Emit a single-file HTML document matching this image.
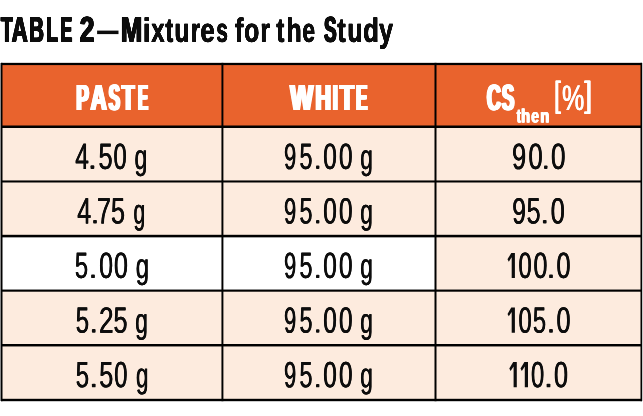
<!DOCTYPE html>
<html><head><meta charset="utf-8">
<style>
html,body{margin:0;padding:0;background:#fff;}
body{width:643px;height:416px;overflow:hidden;}
svg{display:block;will-change:transform;}
text{font-family:"Liberation Sans",sans-serif;font-kerning:none;text-rendering:geometricPrecision;}
</style></head><body>
<svg width="643" height="416" viewBox="0 0 643 416">
<rect x="0.00" y="0.00" width="643.00" height="416.00" fill="#ffffff"/>
<rect x="1.00" y="63.00" width="641.00" height="64.00" fill="#E9632D"/>
<rect x="1.00" y="127.00" width="640.00" height="54.00" fill="#FDEBDE"/>
<rect x="1.00" y="181.00" width="640.00" height="55.00" fill="#FDEBDE"/>
<rect x="1.00" y="236.00" width="434.50" height="55.00" fill="#ffffff"/>
<rect x="435.50" y="236.00" width="205.50" height="55.00" fill="#FDEBDE"/>
<rect x="1.00" y="291.00" width="640.00" height="54.00" fill="#FDEBDE"/>
<rect x="1.00" y="345.00" width="640.00" height="55.00" fill="#FDEBDE"/>
<rect x="0.00" y="63.00" width="1.00" height="338.00" fill="#8a8a8a"/>
<rect x="642.00" y="63.00" width="1.00" height="338.00" fill="#c8c8c8"/>
<rect x="1.00" y="62.85" width="641.00" height="2.25" fill="#000"/>
<rect x="1.00" y="125.50" width="641.00" height="2.50" fill="#000"/>
<rect x="1.00" y="180.45" width="641.00" height="2.05" fill="#000"/>
<rect x="1.00" y="234.80" width="641.00" height="2.55" fill="#000"/>
<rect x="1.00" y="289.55" width="641.00" height="2.15" fill="#000"/>
<rect x="1.00" y="344.00" width="641.00" height="2.45" fill="#000"/>
<rect x="1.00" y="398.80" width="641.00" height="2.40" fill="#000"/>
<rect x="1.00" y="62.85" width="1.50" height="338.35" fill="#000"/>
<rect x="221.45" y="62.85" width="1.95" height="338.35" fill="#000"/>
<rect x="434.50" y="62.85" width="2.00" height="338.35" fill="#000"/>
<rect x="640.50" y="62.85" width="1.50" height="338.35" fill="#000"/>
<text transform="matrix(0.5257 0.001 0 0.9801 0.48 41.50)" font-size="36.5" font-weight="700" fill="#0d0d0d">T</text>
<text transform="matrix(0.5257 0.001 0 0.9801 0.48 41.75)" font-size="36.5" font-weight="700" fill="#0d0d0d">T</text>
<text transform="matrix(0.5257 0.001 0 0.9801 0.48 42.00)" font-size="36.5" font-weight="700" fill="#0d0d0d">T</text>
<text transform="matrix(0.5257 0.001 0 0.9801 0.82 41.50)" font-size="36.5" font-weight="700" fill="#0d0d0d">T</text>
<text transform="matrix(0.5257 0.001 0 0.9801 0.82 41.75)" font-size="36.5" font-weight="700" fill="#0d0d0d">T</text>
<text transform="matrix(0.5257 0.001 0 0.9801 0.82 42.00)" font-size="36.5" font-weight="700" fill="#0d0d0d">T</text>
<text transform="matrix(0.5257 0.001 0 0.9801 1.15 41.50)" font-size="36.5" font-weight="700" fill="#0d0d0d">T</text>
<text transform="matrix(0.5257 0.001 0 0.9801 1.15 41.75)" font-size="36.5" font-weight="700" fill="#0d0d0d">T</text>
<text transform="matrix(0.5257 0.001 0 0.9801 1.15 42.00)" font-size="36.5" font-weight="700" fill="#0d0d0d">T</text>
<text transform="matrix(0.5257 0.001 0 0.9801 1.48 41.50)" font-size="36.5" font-weight="700" fill="#0d0d0d">T</text>
<text transform="matrix(0.5257 0.001 0 0.9801 1.48 41.75)" font-size="36.5" font-weight="700" fill="#0d0d0d">T</text>
<text transform="matrix(0.5257 0.001 0 0.9801 1.48 42.00)" font-size="36.5" font-weight="700" fill="#0d0d0d">T</text>
<text transform="matrix(0.6044 0.001 0 0.9801 11.35 41.50)" font-size="36.5" font-weight="700" fill="#0d0d0d">A</text>
<text transform="matrix(0.6044 0.001 0 0.9801 11.35 41.75)" font-size="36.5" font-weight="700" fill="#0d0d0d">A</text>
<text transform="matrix(0.6044 0.001 0 0.9801 11.35 42.00)" font-size="36.5" font-weight="700" fill="#0d0d0d">A</text>
<text transform="matrix(0.6044 0.001 0 0.9801 11.68 41.50)" font-size="36.5" font-weight="700" fill="#0d0d0d">A</text>
<text transform="matrix(0.6044 0.001 0 0.9801 11.68 41.75)" font-size="36.5" font-weight="700" fill="#0d0d0d">A</text>
<text transform="matrix(0.6044 0.001 0 0.9801 11.68 42.00)" font-size="36.5" font-weight="700" fill="#0d0d0d">A</text>
<text transform="matrix(0.6044 0.001 0 0.9801 12.02 41.50)" font-size="36.5" font-weight="700" fill="#0d0d0d">A</text>
<text transform="matrix(0.6044 0.001 0 0.9801 12.02 41.75)" font-size="36.5" font-weight="700" fill="#0d0d0d">A</text>
<text transform="matrix(0.6044 0.001 0 0.9801 12.02 42.00)" font-size="36.5" font-weight="700" fill="#0d0d0d">A</text>
<text transform="matrix(0.6044 0.001 0 0.9801 12.35 41.50)" font-size="36.5" font-weight="700" fill="#0d0d0d">A</text>
<text transform="matrix(0.6044 0.001 0 0.9801 12.35 41.75)" font-size="36.5" font-weight="700" fill="#0d0d0d">A</text>
<text transform="matrix(0.6044 0.001 0 0.9801 12.35 42.00)" font-size="36.5" font-weight="700" fill="#0d0d0d">A</text>
<text transform="matrix(0.5526 0.001 0 0.9801 28.85 41.50)" font-size="36.5" font-weight="700" fill="#0d0d0d">B</text>
<text transform="matrix(0.5526 0.001 0 0.9801 28.85 41.75)" font-size="36.5" font-weight="700" fill="#0d0d0d">B</text>
<text transform="matrix(0.5526 0.001 0 0.9801 28.85 42.00)" font-size="36.5" font-weight="700" fill="#0d0d0d">B</text>
<text transform="matrix(0.5526 0.001 0 0.9801 29.18 41.50)" font-size="36.5" font-weight="700" fill="#0d0d0d">B</text>
<text transform="matrix(0.5526 0.001 0 0.9801 29.18 41.75)" font-size="36.5" font-weight="700" fill="#0d0d0d">B</text>
<text transform="matrix(0.5526 0.001 0 0.9801 29.18 42.00)" font-size="36.5" font-weight="700" fill="#0d0d0d">B</text>
<text transform="matrix(0.5526 0.001 0 0.9801 29.52 41.50)" font-size="36.5" font-weight="700" fill="#0d0d0d">B</text>
<text transform="matrix(0.5526 0.001 0 0.9801 29.52 41.75)" font-size="36.5" font-weight="700" fill="#0d0d0d">B</text>
<text transform="matrix(0.5526 0.001 0 0.9801 29.52 42.00)" font-size="36.5" font-weight="700" fill="#0d0d0d">B</text>
<text transform="matrix(0.5526 0.001 0 0.9801 29.85 41.50)" font-size="36.5" font-weight="700" fill="#0d0d0d">B</text>
<text transform="matrix(0.5526 0.001 0 0.9801 29.85 41.75)" font-size="36.5" font-weight="700" fill="#0d0d0d">B</text>
<text transform="matrix(0.5526 0.001 0 0.9801 29.85 42.00)" font-size="36.5" font-weight="700" fill="#0d0d0d">B</text>
<text transform="matrix(0.5232 0.001 0 0.9801 45.82 41.50)" font-size="36.5" font-weight="700" fill="#0d0d0d">L</text>
<text transform="matrix(0.5232 0.001 0 0.9801 45.82 41.75)" font-size="36.5" font-weight="700" fill="#0d0d0d">L</text>
<text transform="matrix(0.5232 0.001 0 0.9801 45.82 42.00)" font-size="36.5" font-weight="700" fill="#0d0d0d">L</text>
<text transform="matrix(0.5232 0.001 0 0.9801 46.16 41.50)" font-size="36.5" font-weight="700" fill="#0d0d0d">L</text>
<text transform="matrix(0.5232 0.001 0 0.9801 46.16 41.75)" font-size="36.5" font-weight="700" fill="#0d0d0d">L</text>
<text transform="matrix(0.5232 0.001 0 0.9801 46.16 42.00)" font-size="36.5" font-weight="700" fill="#0d0d0d">L</text>
<text transform="matrix(0.5232 0.001 0 0.9801 46.49 41.50)" font-size="36.5" font-weight="700" fill="#0d0d0d">L</text>
<text transform="matrix(0.5232 0.001 0 0.9801 46.49 41.75)" font-size="36.5" font-weight="700" fill="#0d0d0d">L</text>
<text transform="matrix(0.5232 0.001 0 0.9801 46.49 42.00)" font-size="36.5" font-weight="700" fill="#0d0d0d">L</text>
<text transform="matrix(0.5232 0.001 0 0.9801 46.82 41.50)" font-size="36.5" font-weight="700" fill="#0d0d0d">L</text>
<text transform="matrix(0.5232 0.001 0 0.9801 46.82 41.75)" font-size="36.5" font-weight="700" fill="#0d0d0d">L</text>
<text transform="matrix(0.5232 0.001 0 0.9801 46.82 42.00)" font-size="36.5" font-weight="700" fill="#0d0d0d">L</text>
<text transform="matrix(0.4810 0.001 0 0.9801 59.88 41.50)" font-size="36.5" font-weight="700" fill="#0d0d0d">E</text>
<text transform="matrix(0.4810 0.001 0 0.9801 59.88 41.75)" font-size="36.5" font-weight="700" fill="#0d0d0d">E</text>
<text transform="matrix(0.4810 0.001 0 0.9801 59.88 42.00)" font-size="36.5" font-weight="700" fill="#0d0d0d">E</text>
<text transform="matrix(0.4810 0.001 0 0.9801 60.21 41.50)" font-size="36.5" font-weight="700" fill="#0d0d0d">E</text>
<text transform="matrix(0.4810 0.001 0 0.9801 60.21 41.75)" font-size="36.5" font-weight="700" fill="#0d0d0d">E</text>
<text transform="matrix(0.4810 0.001 0 0.9801 60.21 42.00)" font-size="36.5" font-weight="700" fill="#0d0d0d">E</text>
<text transform="matrix(0.4810 0.001 0 0.9801 60.54 41.50)" font-size="36.5" font-weight="700" fill="#0d0d0d">E</text>
<text transform="matrix(0.4810 0.001 0 0.9801 60.54 41.75)" font-size="36.5" font-weight="700" fill="#0d0d0d">E</text>
<text transform="matrix(0.4810 0.001 0 0.9801 60.54 42.00)" font-size="36.5" font-weight="700" fill="#0d0d0d">E</text>
<text transform="matrix(0.4810 0.001 0 0.9801 60.88 41.50)" font-size="36.5" font-weight="700" fill="#0d0d0d">E</text>
<text transform="matrix(0.4810 0.001 0 0.9801 60.88 41.75)" font-size="36.5" font-weight="700" fill="#0d0d0d">E</text>
<text transform="matrix(0.4810 0.001 0 0.9801 60.88 42.00)" font-size="36.5" font-weight="700" fill="#0d0d0d">E</text>
<text transform="matrix(0.7227 0.001 0 0.9801 79.29 41.50)" font-size="36.5" font-weight="700" fill="#0d0d0d">2</text>
<text transform="matrix(0.7227 0.001 0 0.9801 79.29 41.75)" font-size="36.5" font-weight="700" fill="#0d0d0d">2</text>
<text transform="matrix(0.7227 0.001 0 0.9801 79.29 42.00)" font-size="36.5" font-weight="700" fill="#0d0d0d">2</text>
<text transform="matrix(0.7227 0.001 0 0.9801 79.62 41.50)" font-size="36.5" font-weight="700" fill="#0d0d0d">2</text>
<text transform="matrix(0.7227 0.001 0 0.9801 79.62 41.75)" font-size="36.5" font-weight="700" fill="#0d0d0d">2</text>
<text transform="matrix(0.7227 0.001 0 0.9801 79.62 42.00)" font-size="36.5" font-weight="700" fill="#0d0d0d">2</text>
<text transform="matrix(0.7227 0.001 0 0.9801 79.95 41.50)" font-size="36.5" font-weight="700" fill="#0d0d0d">2</text>
<text transform="matrix(0.7227 0.001 0 0.9801 79.95 41.75)" font-size="36.5" font-weight="700" fill="#0d0d0d">2</text>
<text transform="matrix(0.7227 0.001 0 0.9801 79.95 42.00)" font-size="36.5" font-weight="700" fill="#0d0d0d">2</text>
<text transform="matrix(0.7227 0.001 0 0.9801 80.29 41.50)" font-size="36.5" font-weight="700" fill="#0d0d0d">2</text>
<text transform="matrix(0.7227 0.001 0 0.9801 80.29 41.75)" font-size="36.5" font-weight="700" fill="#0d0d0d">2</text>
<text transform="matrix(0.7227 0.001 0 0.9801 80.29 42.00)" font-size="36.5" font-weight="700" fill="#0d0d0d">2</text>
<rect x="97.10" y="30.60" width="21.40" height="3.50" fill="#0d0d0d"/>
<text transform="matrix(0.7092 0.001 0 0.9801 120.27 41.50)" font-size="36.5" font-weight="700" fill="#0d0d0d">M</text>
<text transform="matrix(0.7092 0.001 0 0.9801 120.27 41.75)" font-size="36.5" font-weight="700" fill="#0d0d0d">M</text>
<text transform="matrix(0.7092 0.001 0 0.9801 120.27 42.00)" font-size="36.5" font-weight="700" fill="#0d0d0d">M</text>
<text transform="matrix(0.7092 0.001 0 0.9801 120.60 41.50)" font-size="36.5" font-weight="700" fill="#0d0d0d">M</text>
<text transform="matrix(0.7092 0.001 0 0.9801 120.60 41.75)" font-size="36.5" font-weight="700" fill="#0d0d0d">M</text>
<text transform="matrix(0.7092 0.001 0 0.9801 120.60 42.00)" font-size="36.5" font-weight="700" fill="#0d0d0d">M</text>
<text transform="matrix(0.7092 0.001 0 0.9801 120.94 41.50)" font-size="36.5" font-weight="700" fill="#0d0d0d">M</text>
<text transform="matrix(0.7092 0.001 0 0.9801 120.94 41.75)" font-size="36.5" font-weight="700" fill="#0d0d0d">M</text>
<text transform="matrix(0.7092 0.001 0 0.9801 120.94 42.00)" font-size="36.5" font-weight="700" fill="#0d0d0d">M</text>
<text transform="matrix(0.7092 0.001 0 0.9801 121.27 41.50)" font-size="36.5" font-weight="700" fill="#0d0d0d">M</text>
<text transform="matrix(0.7092 0.001 0 0.9801 121.27 41.75)" font-size="36.5" font-weight="700" fill="#0d0d0d">M</text>
<text transform="matrix(0.7092 0.001 0 0.9801 121.27 42.00)" font-size="36.5" font-weight="700" fill="#0d0d0d">M</text>
<text transform="matrix(0.7588 0.001 0 0.9213 142.77 41.50)" font-size="36.5" font-weight="700" fill="#0d0d0d">i</text>
<text transform="matrix(0.7588 0.001 0 0.9213 142.77 41.75)" font-size="36.5" font-weight="700" fill="#0d0d0d">i</text>
<text transform="matrix(0.7588 0.001 0 0.9213 142.77 42.00)" font-size="36.5" font-weight="700" fill="#0d0d0d">i</text>
<text transform="matrix(0.7588 0.001 0 0.9213 142.97 41.50)" font-size="36.5" font-weight="700" fill="#0d0d0d">i</text>
<text transform="matrix(0.7588 0.001 0 0.9213 142.97 41.75)" font-size="36.5" font-weight="700" fill="#0d0d0d">i</text>
<text transform="matrix(0.7588 0.001 0 0.9213 142.97 42.00)" font-size="36.5" font-weight="700" fill="#0d0d0d">i</text>
<text transform="matrix(0.6470 0.001 0 0.9213 151.24 41.50)" font-size="36.5" font-weight="700" fill="#0d0d0d">x</text>
<text transform="matrix(0.6470 0.001 0 0.9213 151.24 41.75)" font-size="36.5" font-weight="700" fill="#0d0d0d">x</text>
<text transform="matrix(0.6470 0.001 0 0.9213 151.24 42.00)" font-size="36.5" font-weight="700" fill="#0d0d0d">x</text>
<text transform="matrix(0.6470 0.001 0 0.9213 151.44 41.50)" font-size="36.5" font-weight="700" fill="#0d0d0d">x</text>
<text transform="matrix(0.6470 0.001 0 0.9213 151.44 41.75)" font-size="36.5" font-weight="700" fill="#0d0d0d">x</text>
<text transform="matrix(0.6470 0.001 0 0.9213 151.44 42.00)" font-size="36.5" font-weight="700" fill="#0d0d0d">x</text>
<text transform="matrix(0.6481 0.001 0 0.9213 165.21 41.50)" font-size="36.5" font-weight="700" fill="#0d0d0d">t</text>
<text transform="matrix(0.6481 0.001 0 0.9213 165.21 41.75)" font-size="36.5" font-weight="700" fill="#0d0d0d">t</text>
<text transform="matrix(0.6481 0.001 0 0.9213 165.21 42.00)" font-size="36.5" font-weight="700" fill="#0d0d0d">t</text>
<text transform="matrix(0.6481 0.001 0 0.9213 165.41 41.50)" font-size="36.5" font-weight="700" fill="#0d0d0d">t</text>
<text transform="matrix(0.6481 0.001 0 0.9213 165.41 41.75)" font-size="36.5" font-weight="700" fill="#0d0d0d">t</text>
<text transform="matrix(0.6481 0.001 0 0.9213 165.41 42.00)" font-size="36.5" font-weight="700" fill="#0d0d0d">t</text>
<text transform="matrix(0.6808 0.001 0 0.9213 174.26 41.50)" font-size="36.5" font-weight="700" fill="#0d0d0d">u</text>
<text transform="matrix(0.6808 0.001 0 0.9213 174.26 41.75)" font-size="36.5" font-weight="700" fill="#0d0d0d">u</text>
<text transform="matrix(0.6808 0.001 0 0.9213 174.26 42.00)" font-size="36.5" font-weight="700" fill="#0d0d0d">u</text>
<text transform="matrix(0.6808 0.001 0 0.9213 174.46 41.50)" font-size="36.5" font-weight="700" fill="#0d0d0d">u</text>
<text transform="matrix(0.6808 0.001 0 0.9213 174.46 41.75)" font-size="36.5" font-weight="700" fill="#0d0d0d">u</text>
<text transform="matrix(0.6808 0.001 0 0.9213 174.46 42.00)" font-size="36.5" font-weight="700" fill="#0d0d0d">u</text>
<text transform="matrix(0.6580 0.001 0 0.9213 190.72 41.50)" font-size="36.5" font-weight="700" fill="#0d0d0d">r</text>
<text transform="matrix(0.6580 0.001 0 0.9213 190.72 41.75)" font-size="36.5" font-weight="700" fill="#0d0d0d">r</text>
<text transform="matrix(0.6580 0.001 0 0.9213 190.72 42.00)" font-size="36.5" font-weight="700" fill="#0d0d0d">r</text>
<text transform="matrix(0.6580 0.001 0 0.9213 190.92 41.50)" font-size="36.5" font-weight="700" fill="#0d0d0d">r</text>
<text transform="matrix(0.6580 0.001 0 0.9213 190.92 41.75)" font-size="36.5" font-weight="700" fill="#0d0d0d">r</text>
<text transform="matrix(0.6580 0.001 0 0.9213 190.92 42.00)" font-size="36.5" font-weight="700" fill="#0d0d0d">r</text>
<text transform="matrix(0.7092 0.001 0 0.9213 200.19 41.50)" font-size="36.5" font-weight="700" fill="#0d0d0d">e</text>
<text transform="matrix(0.7092 0.001 0 0.9213 200.19 41.75)" font-size="36.5" font-weight="700" fill="#0d0d0d">e</text>
<text transform="matrix(0.7092 0.001 0 0.9213 200.19 42.00)" font-size="36.5" font-weight="700" fill="#0d0d0d">e</text>
<text transform="matrix(0.7092 0.001 0 0.9213 200.39 41.50)" font-size="36.5" font-weight="700" fill="#0d0d0d">e</text>
<text transform="matrix(0.7092 0.001 0 0.9213 200.39 41.75)" font-size="36.5" font-weight="700" fill="#0d0d0d">e</text>
<text transform="matrix(0.7092 0.001 0 0.9213 200.39 42.00)" font-size="36.5" font-weight="700" fill="#0d0d0d">e</text>
<text transform="matrix(0.5651 0.001 0 0.9213 216.27 41.50)" font-size="36.5" font-weight="700" fill="#0d0d0d">s</text>
<text transform="matrix(0.5651 0.001 0 0.9213 216.27 41.75)" font-size="36.5" font-weight="700" fill="#0d0d0d">s</text>
<text transform="matrix(0.5651 0.001 0 0.9213 216.27 42.00)" font-size="36.5" font-weight="700" fill="#0d0d0d">s</text>
<text transform="matrix(0.5651 0.001 0 0.9213 216.47 41.50)" font-size="36.5" font-weight="700" fill="#0d0d0d">s</text>
<text transform="matrix(0.5651 0.001 0 0.9213 216.47 41.75)" font-size="36.5" font-weight="700" fill="#0d0d0d">s</text>
<text transform="matrix(0.5651 0.001 0 0.9213 216.47 42.00)" font-size="36.5" font-weight="700" fill="#0d0d0d">s</text>
<text transform="matrix(0.6981 0.001 0 0.9213 234.76 41.50)" font-size="36.5" font-weight="700" fill="#0d0d0d">f</text>
<text transform="matrix(0.6981 0.001 0 0.9213 234.76 41.75)" font-size="36.5" font-weight="700" fill="#0d0d0d">f</text>
<text transform="matrix(0.6981 0.001 0 0.9213 234.76 42.00)" font-size="36.5" font-weight="700" fill="#0d0d0d">f</text>
<text transform="matrix(0.6981 0.001 0 0.9213 234.96 41.50)" font-size="36.5" font-weight="700" fill="#0d0d0d">f</text>
<text transform="matrix(0.6981 0.001 0 0.9213 234.96 41.75)" font-size="36.5" font-weight="700" fill="#0d0d0d">f</text>
<text transform="matrix(0.6981 0.001 0 0.9213 234.96 42.00)" font-size="36.5" font-weight="700" fill="#0d0d0d">f</text>
<text transform="matrix(0.6789 0.001 0 0.9213 243.93 41.50)" font-size="36.5" font-weight="700" fill="#0d0d0d">o</text>
<text transform="matrix(0.6789 0.001 0 0.9213 243.93 41.75)" font-size="36.5" font-weight="700" fill="#0d0d0d">o</text>
<text transform="matrix(0.6789 0.001 0 0.9213 243.93 42.00)" font-size="36.5" font-weight="700" fill="#0d0d0d">o</text>
<text transform="matrix(0.6789 0.001 0 0.9213 244.13 41.50)" font-size="36.5" font-weight="700" fill="#0d0d0d">o</text>
<text transform="matrix(0.6789 0.001 0 0.9213 244.13 41.75)" font-size="36.5" font-weight="700" fill="#0d0d0d">o</text>
<text transform="matrix(0.6789 0.001 0 0.9213 244.13 42.00)" font-size="36.5" font-weight="700" fill="#0d0d0d">o</text>
<text transform="matrix(0.6847 0.001 0 0.9213 260.15 41.50)" font-size="36.5" font-weight="700" fill="#0d0d0d">r</text>
<text transform="matrix(0.6847 0.001 0 0.9213 260.15 41.75)" font-size="36.5" font-weight="700" fill="#0d0d0d">r</text>
<text transform="matrix(0.6847 0.001 0 0.9213 260.15 42.00)" font-size="36.5" font-weight="700" fill="#0d0d0d">r</text>
<text transform="matrix(0.6847 0.001 0 0.9213 260.35 41.50)" font-size="36.5" font-weight="700" fill="#0d0d0d">r</text>
<text transform="matrix(0.6847 0.001 0 0.9213 260.35 41.75)" font-size="36.5" font-weight="700" fill="#0d0d0d">r</text>
<text transform="matrix(0.6847 0.001 0 0.9213 260.35 42.00)" font-size="36.5" font-weight="700" fill="#0d0d0d">r</text>
<text transform="matrix(0.6570 0.001 0 0.9213 276.21 41.50)" font-size="36.5" font-weight="700" fill="#0d0d0d">t</text>
<text transform="matrix(0.6570 0.001 0 0.9213 276.21 41.75)" font-size="36.5" font-weight="700" fill="#0d0d0d">t</text>
<text transform="matrix(0.6570 0.001 0 0.9213 276.21 42.00)" font-size="36.5" font-weight="700" fill="#0d0d0d">t</text>
<text transform="matrix(0.6570 0.001 0 0.9213 276.41 41.50)" font-size="36.5" font-weight="700" fill="#0d0d0d">t</text>
<text transform="matrix(0.6570 0.001 0 0.9213 276.41 41.75)" font-size="36.5" font-weight="700" fill="#0d0d0d">t</text>
<text transform="matrix(0.6570 0.001 0 0.9213 276.41 42.00)" font-size="36.5" font-weight="700" fill="#0d0d0d">t</text>
<text transform="matrix(0.6864 0.001 0 0.9213 286.25 41.50)" font-size="36.5" font-weight="700" fill="#0d0d0d">h</text>
<text transform="matrix(0.6864 0.001 0 0.9213 286.25 41.75)" font-size="36.5" font-weight="700" fill="#0d0d0d">h</text>
<text transform="matrix(0.6864 0.001 0 0.9213 286.25 42.00)" font-size="36.5" font-weight="700" fill="#0d0d0d">h</text>
<text transform="matrix(0.6864 0.001 0 0.9213 286.45 41.50)" font-size="36.5" font-weight="700" fill="#0d0d0d">h</text>
<text transform="matrix(0.6864 0.001 0 0.9213 286.45 41.75)" font-size="36.5" font-weight="700" fill="#0d0d0d">h</text>
<text transform="matrix(0.6864 0.001 0 0.9213 286.45 42.00)" font-size="36.5" font-weight="700" fill="#0d0d0d">h</text>
<text transform="matrix(0.6241 0.001 0 0.9213 302.21 41.50)" font-size="36.5" font-weight="700" fill="#0d0d0d">e</text>
<text transform="matrix(0.6241 0.001 0 0.9213 302.21 41.75)" font-size="36.5" font-weight="700" fill="#0d0d0d">e</text>
<text transform="matrix(0.6241 0.001 0 0.9213 302.21 42.00)" font-size="36.5" font-weight="700" fill="#0d0d0d">e</text>
<text transform="matrix(0.6241 0.001 0 0.9213 302.41 41.50)" font-size="36.5" font-weight="700" fill="#0d0d0d">e</text>
<text transform="matrix(0.6241 0.001 0 0.9213 302.41 41.75)" font-size="36.5" font-weight="700" fill="#0d0d0d">e</text>
<text transform="matrix(0.6241 0.001 0 0.9213 302.41 42.00)" font-size="36.5" font-weight="700" fill="#0d0d0d">e</text>
<text transform="matrix(0.5167 0.001 0 0.9801 323.56 41.50)" font-size="36.5" font-weight="700" fill="#0d0d0d">S</text>
<text transform="matrix(0.5167 0.001 0 0.9801 323.56 41.75)" font-size="36.5" font-weight="700" fill="#0d0d0d">S</text>
<text transform="matrix(0.5167 0.001 0 0.9801 323.56 42.00)" font-size="36.5" font-weight="700" fill="#0d0d0d">S</text>
<text transform="matrix(0.5167 0.001 0 0.9801 323.89 41.50)" font-size="36.5" font-weight="700" fill="#0d0d0d">S</text>
<text transform="matrix(0.5167 0.001 0 0.9801 323.89 41.75)" font-size="36.5" font-weight="700" fill="#0d0d0d">S</text>
<text transform="matrix(0.5167 0.001 0 0.9801 323.89 42.00)" font-size="36.5" font-weight="700" fill="#0d0d0d">S</text>
<text transform="matrix(0.5167 0.001 0 0.9801 324.22 41.50)" font-size="36.5" font-weight="700" fill="#0d0d0d">S</text>
<text transform="matrix(0.5167 0.001 0 0.9801 324.22 41.75)" font-size="36.5" font-weight="700" fill="#0d0d0d">S</text>
<text transform="matrix(0.5167 0.001 0 0.9801 324.22 42.00)" font-size="36.5" font-weight="700" fill="#0d0d0d">S</text>
<text transform="matrix(0.5167 0.001 0 0.9801 324.56 41.50)" font-size="36.5" font-weight="700" fill="#0d0d0d">S</text>
<text transform="matrix(0.5167 0.001 0 0.9801 324.56 41.75)" font-size="36.5" font-weight="700" fill="#0d0d0d">S</text>
<text transform="matrix(0.5167 0.001 0 0.9801 324.56 42.00)" font-size="36.5" font-weight="700" fill="#0d0d0d">S</text>
<text transform="matrix(0.6836 0.001 0 0.9213 337.20 41.50)" font-size="36.5" font-weight="700" fill="#0d0d0d">t</text>
<text transform="matrix(0.6836 0.001 0 0.9213 337.20 41.75)" font-size="36.5" font-weight="700" fill="#0d0d0d">t</text>
<text transform="matrix(0.6836 0.001 0 0.9213 337.20 42.00)" font-size="36.5" font-weight="700" fill="#0d0d0d">t</text>
<text transform="matrix(0.6836 0.001 0 0.9213 337.40 41.50)" font-size="36.5" font-weight="700" fill="#0d0d0d">t</text>
<text transform="matrix(0.6836 0.001 0 0.9213 337.40 41.75)" font-size="36.5" font-weight="700" fill="#0d0d0d">t</text>
<text transform="matrix(0.6836 0.001 0 0.9213 337.40 42.00)" font-size="36.5" font-weight="700" fill="#0d0d0d">t</text>
<text transform="matrix(0.6808 0.001 0 0.9213 347.36 41.50)" font-size="36.5" font-weight="700" fill="#0d0d0d">u</text>
<text transform="matrix(0.6808 0.001 0 0.9213 347.36 41.75)" font-size="36.5" font-weight="700" fill="#0d0d0d">u</text>
<text transform="matrix(0.6808 0.001 0 0.9213 347.36 42.00)" font-size="36.5" font-weight="700" fill="#0d0d0d">u</text>
<text transform="matrix(0.6808 0.001 0 0.9213 347.56 41.50)" font-size="36.5" font-weight="700" fill="#0d0d0d">u</text>
<text transform="matrix(0.6808 0.001 0 0.9213 347.56 41.75)" font-size="36.5" font-weight="700" fill="#0d0d0d">u</text>
<text transform="matrix(0.6808 0.001 0 0.9213 347.56 42.00)" font-size="36.5" font-weight="700" fill="#0d0d0d">u</text>
<text transform="matrix(0.7068 0.001 0 0.9213 362.94 41.50)" font-size="36.5" font-weight="700" fill="#0d0d0d">d</text>
<text transform="matrix(0.7068 0.001 0 0.9213 362.94 41.75)" font-size="36.5" font-weight="700" fill="#0d0d0d">d</text>
<text transform="matrix(0.7068 0.001 0 0.9213 362.94 42.00)" font-size="36.5" font-weight="700" fill="#0d0d0d">d</text>
<text transform="matrix(0.7068 0.001 0 0.9213 363.14 41.50)" font-size="36.5" font-weight="700" fill="#0d0d0d">d</text>
<text transform="matrix(0.7068 0.001 0 0.9213 363.14 41.75)" font-size="36.5" font-weight="700" fill="#0d0d0d">d</text>
<text transform="matrix(0.7068 0.001 0 0.9213 363.14 42.00)" font-size="36.5" font-weight="700" fill="#0d0d0d">d</text>
<text transform="matrix(0.6812 0.001 0 0.9213 379.11 41.50)" font-size="36.5" font-weight="700" fill="#0d0d0d">y</text>
<text transform="matrix(0.6812 0.001 0 0.9213 379.11 41.75)" font-size="36.5" font-weight="700" fill="#0d0d0d">y</text>
<text transform="matrix(0.6812 0.001 0 0.9213 379.11 42.00)" font-size="36.5" font-weight="700" fill="#0d0d0d">y</text>
<text transform="matrix(0.6812 0.001 0 0.9213 379.31 41.50)" font-size="36.5" font-weight="700" fill="#0d0d0d">y</text>
<text transform="matrix(0.6812 0.001 0 0.9213 379.31 41.75)" font-size="36.5" font-weight="700" fill="#0d0d0d">y</text>
<text transform="matrix(0.6812 0.001 0 0.9213 379.31 42.00)" font-size="36.5" font-weight="700" fill="#0d0d0d">y</text>
<text transform="matrix(0.5132 0.001 0 1.0000 75.15 110.00)" font-size="36.5" font-weight="700" fill="#fff">P</text>
<text transform="matrix(0.5132 0.001 0 1.0000 75.55 110.00)" font-size="36.5" font-weight="700" fill="#fff">P</text>
<text transform="matrix(0.5132 0.001 0 1.0000 75.95 110.00)" font-size="36.5" font-weight="700" fill="#fff">P</text>
<text transform="matrix(0.5132 0.001 0 1.0000 76.35 110.00)" font-size="36.5" font-weight="700" fill="#fff">P</text>
<text transform="matrix(0.5132 0.001 0 1.0000 76.75 110.00)" font-size="36.5" font-weight="700" fill="#fff">P</text>
<text transform="matrix(0.5132 0.001 0 1.0000 77.15 110.00)" font-size="36.5" font-weight="700" fill="#fff">P</text>
<text transform="matrix(0.5132 0.001 0 1.0000 77.55 110.00)" font-size="36.5" font-weight="700" fill="#fff">P</text>
<text transform="matrix(0.6126 0.001 0 1.0000 89.44 110.00)" font-size="36.5" font-weight="700" fill="#fff">A</text>
<text transform="matrix(0.6126 0.001 0 1.0000 89.84 110.00)" font-size="36.5" font-weight="700" fill="#fff">A</text>
<text transform="matrix(0.6126 0.001 0 1.0000 90.24 110.00)" font-size="36.5" font-weight="700" fill="#fff">A</text>
<text transform="matrix(0.6126 0.001 0 1.0000 90.64 110.00)" font-size="36.5" font-weight="700" fill="#fff">A</text>
<text transform="matrix(0.6126 0.001 0 1.0000 91.04 110.00)" font-size="36.5" font-weight="700" fill="#fff">A</text>
<text transform="matrix(0.6126 0.001 0 1.0000 91.44 110.00)" font-size="36.5" font-weight="700" fill="#fff">A</text>
<text transform="matrix(0.6126 0.001 0 1.0000 91.84 110.00)" font-size="36.5" font-weight="700" fill="#fff">A</text>
<text transform="matrix(0.4573 0.001 0 1.0000 107.62 110.00)" font-size="36.5" font-weight="700" fill="#fff">S</text>
<text transform="matrix(0.4573 0.001 0 1.0000 108.02 110.00)" font-size="36.5" font-weight="700" fill="#fff">S</text>
<text transform="matrix(0.4573 0.001 0 1.0000 108.42 110.00)" font-size="36.5" font-weight="700" fill="#fff">S</text>
<text transform="matrix(0.4573 0.001 0 1.0000 108.82 110.00)" font-size="36.5" font-weight="700" fill="#fff">S</text>
<text transform="matrix(0.4573 0.001 0 1.0000 109.22 110.00)" font-size="36.5" font-weight="700" fill="#fff">S</text>
<text transform="matrix(0.4573 0.001 0 1.0000 109.62 110.00)" font-size="36.5" font-weight="700" fill="#fff">S</text>
<text transform="matrix(0.4573 0.001 0 1.0000 110.02 110.00)" font-size="36.5" font-weight="700" fill="#fff">S</text>
<text transform="matrix(0.5537 0.001 0 1.0000 120.87 110.00)" font-size="36.5" font-weight="700" fill="#fff">T</text>
<text transform="matrix(0.5537 0.001 0 1.0000 121.27 110.00)" font-size="36.5" font-weight="700" fill="#fff">T</text>
<text transform="matrix(0.5537 0.001 0 1.0000 121.67 110.00)" font-size="36.5" font-weight="700" fill="#fff">T</text>
<text transform="matrix(0.5537 0.001 0 1.0000 122.07 110.00)" font-size="36.5" font-weight="700" fill="#fff">T</text>
<text transform="matrix(0.5537 0.001 0 1.0000 122.47 110.00)" font-size="36.5" font-weight="700" fill="#fff">T</text>
<text transform="matrix(0.5537 0.001 0 1.0000 122.87 110.00)" font-size="36.5" font-weight="700" fill="#fff">T</text>
<text transform="matrix(0.5537 0.001 0 1.0000 123.27 110.00)" font-size="36.5" font-weight="700" fill="#fff">T</text>
<text transform="matrix(0.4004 0.001 0 1.0000 136.92 110.00)" font-size="36.5" font-weight="700" fill="#fff">E</text>
<text transform="matrix(0.4004 0.001 0 1.0000 137.32 110.00)" font-size="36.5" font-weight="700" fill="#fff">E</text>
<text transform="matrix(0.4004 0.001 0 1.0000 137.72 110.00)" font-size="36.5" font-weight="700" fill="#fff">E</text>
<text transform="matrix(0.4004 0.001 0 1.0000 138.12 110.00)" font-size="36.5" font-weight="700" fill="#fff">E</text>
<text transform="matrix(0.4004 0.001 0 1.0000 138.52 110.00)" font-size="36.5" font-weight="700" fill="#fff">E</text>
<text transform="matrix(0.4004 0.001 0 1.0000 138.92 110.00)" font-size="36.5" font-weight="700" fill="#fff">E</text>
<text transform="matrix(0.4004 0.001 0 1.0000 139.32 110.00)" font-size="36.5" font-weight="700" fill="#fff">E</text>
<text transform="matrix(0.6661 0.001 0 1.0000 289.08 110.00)" font-size="36.5" font-weight="700" fill="#fff">W</text>
<text transform="matrix(0.6661 0.001 0 1.0000 289.48 110.00)" font-size="36.5" font-weight="700" fill="#fff">W</text>
<text transform="matrix(0.6661 0.001 0 1.0000 289.88 110.00)" font-size="36.5" font-weight="700" fill="#fff">W</text>
<text transform="matrix(0.6661 0.001 0 1.0000 290.28 110.00)" font-size="36.5" font-weight="700" fill="#fff">W</text>
<text transform="matrix(0.6661 0.001 0 1.0000 290.68 110.00)" font-size="36.5" font-weight="700" fill="#fff">W</text>
<text transform="matrix(0.6661 0.001 0 1.0000 291.08 110.00)" font-size="36.5" font-weight="700" fill="#fff">W</text>
<text transform="matrix(0.6661 0.001 0 1.0000 291.48 110.00)" font-size="36.5" font-weight="700" fill="#fff">W</text>
<text transform="matrix(0.5872 0.001 0 1.0000 314.37 110.00)" font-size="36.5" font-weight="700" fill="#fff">H</text>
<text transform="matrix(0.5872 0.001 0 1.0000 314.77 110.00)" font-size="36.5" font-weight="700" fill="#fff">H</text>
<text transform="matrix(0.5872 0.001 0 1.0000 315.17 110.00)" font-size="36.5" font-weight="700" fill="#fff">H</text>
<text transform="matrix(0.5872 0.001 0 1.0000 315.57 110.00)" font-size="36.5" font-weight="700" fill="#fff">H</text>
<text transform="matrix(0.5872 0.001 0 1.0000 315.97 110.00)" font-size="36.5" font-weight="700" fill="#fff">H</text>
<text transform="matrix(0.5872 0.001 0 1.0000 316.37 110.00)" font-size="36.5" font-weight="700" fill="#fff">H</text>
<text transform="matrix(0.5872 0.001 0 1.0000 316.77 110.00)" font-size="36.5" font-weight="700" fill="#fff">H</text>
<text transform="matrix(0.4565 0.001 0 1.0000 331.79 110.00)" font-size="36.5" font-weight="700" fill="#fff">I</text>
<text transform="matrix(0.4565 0.001 0 1.0000 332.19 110.00)" font-size="36.5" font-weight="700" fill="#fff">I</text>
<text transform="matrix(0.4565 0.001 0 1.0000 332.59 110.00)" font-size="36.5" font-weight="700" fill="#fff">I</text>
<text transform="matrix(0.4565 0.001 0 1.0000 332.99 110.00)" font-size="36.5" font-weight="700" fill="#fff">I</text>
<text transform="matrix(0.4565 0.001 0 1.0000 333.39 110.00)" font-size="36.5" font-weight="700" fill="#fff">I</text>
<text transform="matrix(0.4565 0.001 0 1.0000 333.79 110.00)" font-size="36.5" font-weight="700" fill="#fff">I</text>
<text transform="matrix(0.4565 0.001 0 1.0000 334.19 110.00)" font-size="36.5" font-weight="700" fill="#fff">I</text>
<text transform="matrix(0.6234 0.001 0 1.0000 338.74 110.00)" font-size="36.5" font-weight="700" fill="#fff">T</text>
<text transform="matrix(0.6234 0.001 0 1.0000 339.14 110.00)" font-size="36.5" font-weight="700" fill="#fff">T</text>
<text transform="matrix(0.6234 0.001 0 1.0000 339.54 110.00)" font-size="36.5" font-weight="700" fill="#fff">T</text>
<text transform="matrix(0.6234 0.001 0 1.0000 339.94 110.00)" font-size="36.5" font-weight="700" fill="#fff">T</text>
<text transform="matrix(0.6234 0.001 0 1.0000 340.34 110.00)" font-size="36.5" font-weight="700" fill="#fff">T</text>
<text transform="matrix(0.6234 0.001 0 1.0000 340.74 110.00)" font-size="36.5" font-weight="700" fill="#fff">T</text>
<text transform="matrix(0.6234 0.001 0 1.0000 341.14 110.00)" font-size="36.5" font-weight="700" fill="#fff">T</text>
<text transform="matrix(0.4493 0.001 0 1.0000 355.10 110.00)" font-size="36.5" font-weight="700" fill="#fff">E</text>
<text transform="matrix(0.4493 0.001 0 1.0000 355.50 110.00)" font-size="36.5" font-weight="700" fill="#fff">E</text>
<text transform="matrix(0.4493 0.001 0 1.0000 355.90 110.00)" font-size="36.5" font-weight="700" fill="#fff">E</text>
<text transform="matrix(0.4493 0.001 0 1.0000 356.30 110.00)" font-size="36.5" font-weight="700" fill="#fff">E</text>
<text transform="matrix(0.4493 0.001 0 1.0000 356.70 110.00)" font-size="36.5" font-weight="700" fill="#fff">E</text>
<text transform="matrix(0.4493 0.001 0 1.0000 357.10 110.00)" font-size="36.5" font-weight="700" fill="#fff">E</text>
<text transform="matrix(0.4493 0.001 0 1.0000 357.50 110.00)" font-size="36.5" font-weight="700" fill="#fff">E</text>
<text transform="matrix(0.5322 0.001 0 1.0000 485.70 110.00)" font-size="36.5" font-weight="700" fill="#fff">C</text>
<text transform="matrix(0.5322 0.001 0 1.0000 486.10 110.00)" font-size="36.5" font-weight="700" fill="#fff">C</text>
<text transform="matrix(0.5322 0.001 0 1.0000 486.50 110.00)" font-size="36.5" font-weight="700" fill="#fff">C</text>
<text transform="matrix(0.5322 0.001 0 1.0000 486.90 110.00)" font-size="36.5" font-weight="700" fill="#fff">C</text>
<text transform="matrix(0.5322 0.001 0 1.0000 487.30 110.00)" font-size="36.5" font-weight="700" fill="#fff">C</text>
<text transform="matrix(0.5322 0.001 0 1.0000 487.70 110.00)" font-size="36.5" font-weight="700" fill="#fff">C</text>
<text transform="matrix(0.5322 0.001 0 1.0000 488.10 110.00)" font-size="36.5" font-weight="700" fill="#fff">C</text>
<text transform="matrix(0.5076 0.001 0 1.0000 500.67 110.00)" font-size="36.5" font-weight="700" fill="#fff">S</text>
<text transform="matrix(0.5076 0.001 0 1.0000 501.07 110.00)" font-size="36.5" font-weight="700" fill="#fff">S</text>
<text transform="matrix(0.5076 0.001 0 1.0000 501.47 110.00)" font-size="36.5" font-weight="700" fill="#fff">S</text>
<text transform="matrix(0.5076 0.001 0 1.0000 501.87 110.00)" font-size="36.5" font-weight="700" fill="#fff">S</text>
<text transform="matrix(0.5076 0.001 0 1.0000 502.27 110.00)" font-size="36.5" font-weight="700" fill="#fff">S</text>
<text transform="matrix(0.5076 0.001 0 1.0000 502.67 110.00)" font-size="36.5" font-weight="700" fill="#fff">S</text>
<text transform="matrix(0.5076 0.001 0 1.0000 503.07 110.00)" font-size="36.5" font-weight="700" fill="#fff">S</text>
<text transform="matrix(0.5816 0.001 0 1.0000 516.36 122.50)" font-size="19.5" font-weight="700" fill="#fff">t</text>
<text transform="matrix(0.5816 0.001 0 1.0000 516.76 122.50)" font-size="19.5" font-weight="700" fill="#fff">t</text>
<text transform="matrix(0.5816 0.001 0 1.0000 517.16 122.50)" font-size="19.5" font-weight="700" fill="#fff">t</text>
<text transform="matrix(0.5816 0.001 0 1.0000 517.56 122.50)" font-size="19.5" font-weight="700" fill="#fff">t</text>
<text transform="matrix(0.7494 0.001 0 1.0000 520.58 122.50)" font-size="19.5" font-weight="700" fill="#fff">h</text>
<text transform="matrix(0.7494 0.001 0 1.0000 520.98 122.50)" font-size="19.5" font-weight="700" fill="#fff">h</text>
<text transform="matrix(0.7494 0.001 0 1.0000 521.38 122.50)" font-size="19.5" font-weight="700" fill="#fff">h</text>
<text transform="matrix(0.7494 0.001 0 1.0000 521.78 122.50)" font-size="19.5" font-weight="700" fill="#fff">h</text>
<text transform="matrix(0.7115 0.001 0 1.0000 530.66 122.50)" font-size="19.5" font-weight="700" fill="#fff">e</text>
<text transform="matrix(0.7115 0.001 0 1.0000 531.06 122.50)" font-size="19.5" font-weight="700" fill="#fff">e</text>
<text transform="matrix(0.7115 0.001 0 1.0000 531.46 122.50)" font-size="19.5" font-weight="700" fill="#fff">e</text>
<text transform="matrix(0.7115 0.001 0 1.0000 531.86 122.50)" font-size="19.5" font-weight="700" fill="#fff">e</text>
<text transform="matrix(0.7434 0.001 0 1.0000 539.84 122.50)" font-size="19.5" font-weight="700" fill="#fff">n</text>
<text transform="matrix(0.7434 0.001 0 1.0000 540.24 122.50)" font-size="19.5" font-weight="700" fill="#fff">n</text>
<text transform="matrix(0.7434 0.001 0 1.0000 540.64 122.50)" font-size="19.5" font-weight="700" fill="#fff">n</text>
<text transform="matrix(0.7434 0.001 0 1.0000 541.04 122.50)" font-size="19.5" font-weight="700" fill="#fff">n</text>
<text transform="matrix(0.6804 0.001 0 1.0000 553.68 106.60)" font-size="35.5" font-weight="400" fill="#fff">[</text>
<text transform="matrix(0.6804 0.001 0 1.0000 553.98 106.60)" font-size="35.5" font-weight="400" fill="#fff">[</text>
<text transform="matrix(0.6804 0.001 0 1.0000 554.28 106.60)" font-size="35.5" font-weight="400" fill="#fff">[</text>
<text transform="matrix(0.6804 0.001 0 1.0000 554.58 106.60)" font-size="35.5" font-weight="400" fill="#fff">[</text>
<text transform="matrix(0.7026 0.001 0 1.0000 561.71 110.00)" font-size="35.5" font-weight="400" fill="#fff">%</text>
<text transform="matrix(0.7026 0.001 0 1.0000 562.06 110.00)" font-size="35.5" font-weight="400" fill="#fff">%</text>
<text transform="matrix(0.7026 0.001 0 1.0000 562.41 110.00)" font-size="35.5" font-weight="400" fill="#fff">%</text>
<text transform="matrix(0.7654 0.001 0 1.0000 583.99 106.60)" font-size="35.5" font-weight="400" fill="#fff">]</text>
<text transform="matrix(0.7654 0.001 0 1.0000 584.29 106.60)" font-size="35.5" font-weight="400" fill="#fff">]</text>
<text transform="matrix(0.7654 0.001 0 1.0000 584.59 106.60)" font-size="35.5" font-weight="400" fill="#fff">]</text>
<text transform="matrix(0.7654 0.001 0 1.0000 584.89 106.60)" font-size="35.5" font-weight="400" fill="#fff">]</text>
<text transform="matrix(0.6696 0.001 0 1.0000 75.04 168.90)" font-size="36.6" font-weight="400" fill="#0d0d0d">4</text>
<text transform="matrix(0.6696 0.001 0 1.0000 75.26 168.90)" font-size="36.6" font-weight="400" fill="#0d0d0d">4</text>
<text transform="matrix(0.6696 0.001 0 1.0000 75.49 168.90)" font-size="36.6" font-weight="400" fill="#0d0d0d">4</text>
<rect x="90.50" y="165.30" width="3.80" height="3.60" rx="0.9" fill="#0d0d0d"/>
<text transform="matrix(0.6944 0.001 0 1.0000 98.18 168.90)" font-size="36.6" font-weight="400" fill="#0d0d0d">5</text>
<text transform="matrix(0.6944 0.001 0 1.0000 98.41 168.90)" font-size="36.6" font-weight="400" fill="#0d0d0d">5</text>
<text transform="matrix(0.6944 0.001 0 1.0000 98.63 168.90)" font-size="36.6" font-weight="400" fill="#0d0d0d">5</text>
<text transform="matrix(0.6487 0.001 0 1.0000 113.27 168.90)" font-size="36.6" font-weight="400" fill="#0d0d0d">0</text>
<text transform="matrix(0.6487 0.001 0 1.0000 113.50 168.90)" font-size="36.6" font-weight="400" fill="#0d0d0d">0</text>
<text transform="matrix(0.6487 0.001 0 1.0000 113.72 168.90)" font-size="36.6" font-weight="400" fill="#0d0d0d">0</text>
<text transform="matrix(0.6288 0.001 0 0.9620 134.33 168.90)" font-size="36.6" font-weight="400" fill="#0d0d0d">g</text>
<text transform="matrix(0.6288 0.001 0 0.9620 134.56 168.90)" font-size="36.6" font-weight="400" fill="#0d0d0d">g</text>
<text transform="matrix(0.6288 0.001 0 0.9620 134.78 168.90)" font-size="36.6" font-weight="400" fill="#0d0d0d">g</text>
<text transform="matrix(0.6004 0.001 0 1.0000 283.77 168.90)" font-size="36.6" font-weight="400" fill="#0d0d0d">9</text>
<text transform="matrix(0.6004 0.001 0 1.0000 283.99 168.90)" font-size="36.6" font-weight="400" fill="#0d0d0d">9</text>
<text transform="matrix(0.6004 0.001 0 1.0000 284.22 168.90)" font-size="36.6" font-weight="400" fill="#0d0d0d">9</text>
<text transform="matrix(0.6368 0.001 0 1.0000 299.27 168.90)" font-size="36.6" font-weight="400" fill="#0d0d0d">5</text>
<text transform="matrix(0.6368 0.001 0 1.0000 299.49 168.90)" font-size="36.6" font-weight="400" fill="#0d0d0d">5</text>
<text transform="matrix(0.6368 0.001 0 1.0000 299.72 168.90)" font-size="36.6" font-weight="400" fill="#0d0d0d">5</text>
<rect x="316.00" y="165.50" width="3.40" height="3.40" rx="0.9" fill="#0d0d0d"/>
<text transform="matrix(0.6659 0.001 0 1.0000 323.05 168.90)" font-size="36.6" font-weight="400" fill="#0d0d0d">0</text>
<text transform="matrix(0.6659 0.001 0 1.0000 323.27 168.90)" font-size="36.6" font-weight="400" fill="#0d0d0d">0</text>
<text transform="matrix(0.6659 0.001 0 1.0000 323.50 168.90)" font-size="36.6" font-weight="400" fill="#0d0d0d">0</text>
<text transform="matrix(0.6659 0.001 0 1.0000 338.75 168.90)" font-size="36.6" font-weight="400" fill="#0d0d0d">0</text>
<text transform="matrix(0.6659 0.001 0 1.0000 338.97 168.90)" font-size="36.6" font-weight="400" fill="#0d0d0d">0</text>
<text transform="matrix(0.6659 0.001 0 1.0000 339.20 168.90)" font-size="36.6" font-weight="400" fill="#0d0d0d">0</text>
<text transform="matrix(0.6167 0.001 0 0.9620 359.95 168.90)" font-size="36.6" font-weight="400" fill="#0d0d0d">g</text>
<text transform="matrix(0.6167 0.001 0 0.9620 360.18 168.90)" font-size="36.6" font-weight="400" fill="#0d0d0d">g</text>
<text transform="matrix(0.6167 0.001 0 0.9620 360.40 168.90)" font-size="36.6" font-weight="400" fill="#0d0d0d">g</text>
<text transform="matrix(0.6950 0.001 0 1.0000 511.71 168.90)" font-size="36.6" font-weight="400" fill="#0d0d0d">9</text>
<text transform="matrix(0.6950 0.001 0 1.0000 511.93 168.90)" font-size="36.6" font-weight="400" fill="#0d0d0d">9</text>
<text transform="matrix(0.6950 0.001 0 1.0000 512.16 168.90)" font-size="36.6" font-weight="400" fill="#0d0d0d">9</text>
<text transform="matrix(0.6945 0.001 0 1.0000 528.31 168.90)" font-size="36.6" font-weight="400" fill="#0d0d0d">0</text>
<text transform="matrix(0.6945 0.001 0 1.0000 528.53 168.90)" font-size="36.6" font-weight="400" fill="#0d0d0d">0</text>
<text transform="matrix(0.6945 0.001 0 1.0000 528.76 168.90)" font-size="36.6" font-weight="400" fill="#0d0d0d">0</text>
<rect x="544.00" y="165.40" width="3.50" height="3.50" rx="0.9" fill="#0d0d0d"/>
<text transform="matrix(0.7116 0.001 0 1.0000 550.68 168.90)" font-size="36.6" font-weight="400" fill="#0d0d0d">0</text>
<text transform="matrix(0.7116 0.001 0 1.0000 550.91 168.90)" font-size="36.6" font-weight="400" fill="#0d0d0d">0</text>
<text transform="matrix(0.7116 0.001 0 1.0000 551.13 168.90)" font-size="36.6" font-weight="400" fill="#0d0d0d">0</text>
<text transform="matrix(0.6859 0.001 0 1.0000 77.02 223.50)" font-size="36.6" font-weight="400" fill="#0d0d0d">4</text>
<text transform="matrix(0.6859 0.001 0 1.0000 77.25 223.50)" font-size="36.6" font-weight="400" fill="#0d0d0d">4</text>
<text transform="matrix(0.6859 0.001 0 1.0000 77.47 223.50)" font-size="36.6" font-weight="400" fill="#0d0d0d">4</text>
<rect x="93.10" y="219.90" width="3.80" height="3.60" rx="0.9" fill="#0d0d0d"/>
<text transform="matrix(0.6822 0.001 0 1.0000 96.82 223.50)" font-size="36.6" font-weight="400" fill="#0d0d0d">7</text>
<text transform="matrix(0.6822 0.001 0 1.0000 97.04 223.50)" font-size="36.6" font-weight="400" fill="#0d0d0d">7</text>
<text transform="matrix(0.6822 0.001 0 1.0000 97.27 223.50)" font-size="36.6" font-weight="400" fill="#0d0d0d">7</text>
<text transform="matrix(0.6886 0.001 0 1.0000 110.79 223.50)" font-size="36.6" font-weight="400" fill="#0d0d0d">5</text>
<text transform="matrix(0.6886 0.001 0 1.0000 111.02 223.50)" font-size="36.6" font-weight="400" fill="#0d0d0d">5</text>
<text transform="matrix(0.6886 0.001 0 1.0000 111.24 223.50)" font-size="36.6" font-weight="400" fill="#0d0d0d">5</text>
<text transform="matrix(0.5741 0.001 0 0.9620 133.32 223.50)" font-size="36.6" font-weight="400" fill="#0d0d0d">g</text>
<text transform="matrix(0.5741 0.001 0 0.9620 133.54 223.50)" font-size="36.6" font-weight="400" fill="#0d0d0d">g</text>
<text transform="matrix(0.5741 0.001 0 0.9620 133.77 223.50)" font-size="36.6" font-weight="400" fill="#0d0d0d">g</text>
<text transform="matrix(0.6004 0.001 0 1.0000 283.77 223.50)" font-size="36.6" font-weight="400" fill="#0d0d0d">9</text>
<text transform="matrix(0.6004 0.001 0 1.0000 283.99 223.50)" font-size="36.6" font-weight="400" fill="#0d0d0d">9</text>
<text transform="matrix(0.6004 0.001 0 1.0000 284.22 223.50)" font-size="36.6" font-weight="400" fill="#0d0d0d">9</text>
<text transform="matrix(0.6368 0.001 0 1.0000 299.27 223.50)" font-size="36.6" font-weight="400" fill="#0d0d0d">5</text>
<text transform="matrix(0.6368 0.001 0 1.0000 299.49 223.50)" font-size="36.6" font-weight="400" fill="#0d0d0d">5</text>
<text transform="matrix(0.6368 0.001 0 1.0000 299.72 223.50)" font-size="36.6" font-weight="400" fill="#0d0d0d">5</text>
<rect x="316.00" y="220.10" width="3.40" height="3.40" rx="0.9" fill="#0d0d0d"/>
<text transform="matrix(0.6659 0.001 0 1.0000 323.05 223.50)" font-size="36.6" font-weight="400" fill="#0d0d0d">0</text>
<text transform="matrix(0.6659 0.001 0 1.0000 323.27 223.50)" font-size="36.6" font-weight="400" fill="#0d0d0d">0</text>
<text transform="matrix(0.6659 0.001 0 1.0000 323.50 223.50)" font-size="36.6" font-weight="400" fill="#0d0d0d">0</text>
<text transform="matrix(0.6659 0.001 0 1.0000 338.75 223.50)" font-size="36.6" font-weight="400" fill="#0d0d0d">0</text>
<text transform="matrix(0.6659 0.001 0 1.0000 338.97 223.50)" font-size="36.6" font-weight="400" fill="#0d0d0d">0</text>
<text transform="matrix(0.6659 0.001 0 1.0000 339.20 223.50)" font-size="36.6" font-weight="400" fill="#0d0d0d">0</text>
<text transform="matrix(0.6167 0.001 0 0.9620 359.95 223.50)" font-size="36.6" font-weight="400" fill="#0d0d0d">g</text>
<text transform="matrix(0.6167 0.001 0 0.9620 360.18 223.50)" font-size="36.6" font-weight="400" fill="#0d0d0d">g</text>
<text transform="matrix(0.6167 0.001 0 0.9620 360.40 223.50)" font-size="36.6" font-weight="400" fill="#0d0d0d">g</text>
<text transform="matrix(0.6714 0.001 0 1.0000 511.95 223.50)" font-size="36.6" font-weight="400" fill="#0d0d0d">9</text>
<text transform="matrix(0.6714 0.001 0 1.0000 512.17 223.50)" font-size="36.6" font-weight="400" fill="#0d0d0d">9</text>
<text transform="matrix(0.6714 0.001 0 1.0000 512.40 223.50)" font-size="36.6" font-weight="400" fill="#0d0d0d">9</text>
<text transform="matrix(0.6886 0.001 0 1.0000 526.39 223.50)" font-size="36.6" font-weight="400" fill="#0d0d0d">5</text>
<text transform="matrix(0.6886 0.001 0 1.0000 526.62 223.50)" font-size="36.6" font-weight="400" fill="#0d0d0d">5</text>
<text transform="matrix(0.6886 0.001 0 1.0000 526.84 223.50)" font-size="36.6" font-weight="400" fill="#0d0d0d">5</text>
<rect x="542.90" y="219.90" width="3.70" height="3.60" rx="0.9" fill="#0d0d0d"/>
<text transform="matrix(0.6887 0.001 0 1.0000 550.62 223.50)" font-size="36.6" font-weight="400" fill="#0d0d0d">0</text>
<text transform="matrix(0.6887 0.001 0 1.0000 550.84 223.50)" font-size="36.6" font-weight="400" fill="#0d0d0d">0</text>
<text transform="matrix(0.6887 0.001 0 1.0000 551.07 223.50)" font-size="36.6" font-weight="400" fill="#0d0d0d">0</text>
<text transform="matrix(0.6541 0.001 0 1.0000 74.64 278.10)" font-size="36.6" font-weight="400" fill="#0d0d0d">5</text>
<text transform="matrix(0.6541 0.001 0 1.0000 74.87 278.10)" font-size="36.6" font-weight="400" fill="#0d0d0d">5</text>
<text transform="matrix(0.6541 0.001 0 1.0000 75.09 278.10)" font-size="36.6" font-weight="400" fill="#0d0d0d">5</text>
<rect x="91.10" y="274.50" width="3.80" height="3.60" rx="0.9" fill="#0d0d0d"/>
<text transform="matrix(0.6830 0.001 0 1.0000 98.92 278.10)" font-size="36.6" font-weight="400" fill="#0d0d0d">0</text>
<text transform="matrix(0.6830 0.001 0 1.0000 99.15 278.10)" font-size="36.6" font-weight="400" fill="#0d0d0d">0</text>
<text transform="matrix(0.6830 0.001 0 1.0000 99.37 278.10)" font-size="36.6" font-weight="400" fill="#0d0d0d">0</text>
<text transform="matrix(0.6830 0.001 0 1.0000 113.82 278.10)" font-size="36.6" font-weight="400" fill="#0d0d0d">0</text>
<text transform="matrix(0.6830 0.001 0 1.0000 114.05 278.10)" font-size="36.6" font-weight="400" fill="#0d0d0d">0</text>
<text transform="matrix(0.6830 0.001 0 1.0000 114.27 278.10)" font-size="36.6" font-weight="400" fill="#0d0d0d">0</text>
<text transform="matrix(0.6531 0.001 0 0.9620 135.50 278.10)" font-size="36.6" font-weight="400" fill="#0d0d0d">g</text>
<text transform="matrix(0.6531 0.001 0 0.9620 135.72 278.10)" font-size="36.6" font-weight="400" fill="#0d0d0d">g</text>
<text transform="matrix(0.6531 0.001 0 0.9620 135.95 278.10)" font-size="36.6" font-weight="400" fill="#0d0d0d">g</text>
<text transform="matrix(0.6004 0.001 0 1.0000 283.77 278.10)" font-size="36.6" font-weight="400" fill="#0d0d0d">9</text>
<text transform="matrix(0.6004 0.001 0 1.0000 283.99 278.10)" font-size="36.6" font-weight="400" fill="#0d0d0d">9</text>
<text transform="matrix(0.6004 0.001 0 1.0000 284.22 278.10)" font-size="36.6" font-weight="400" fill="#0d0d0d">9</text>
<text transform="matrix(0.6368 0.001 0 1.0000 299.27 278.10)" font-size="36.6" font-weight="400" fill="#0d0d0d">5</text>
<text transform="matrix(0.6368 0.001 0 1.0000 299.49 278.10)" font-size="36.6" font-weight="400" fill="#0d0d0d">5</text>
<text transform="matrix(0.6368 0.001 0 1.0000 299.72 278.10)" font-size="36.6" font-weight="400" fill="#0d0d0d">5</text>
<rect x="316.00" y="274.70" width="3.40" height="3.40" rx="0.9" fill="#0d0d0d"/>
<text transform="matrix(0.6659 0.001 0 1.0000 323.05 278.10)" font-size="36.6" font-weight="400" fill="#0d0d0d">0</text>
<text transform="matrix(0.6659 0.001 0 1.0000 323.27 278.10)" font-size="36.6" font-weight="400" fill="#0d0d0d">0</text>
<text transform="matrix(0.6659 0.001 0 1.0000 323.50 278.10)" font-size="36.6" font-weight="400" fill="#0d0d0d">0</text>
<text transform="matrix(0.6659 0.001 0 1.0000 338.75 278.10)" font-size="36.6" font-weight="400" fill="#0d0d0d">0</text>
<text transform="matrix(0.6659 0.001 0 1.0000 338.97 278.10)" font-size="36.6" font-weight="400" fill="#0d0d0d">0</text>
<text transform="matrix(0.6659 0.001 0 1.0000 339.20 278.10)" font-size="36.6" font-weight="400" fill="#0d0d0d">0</text>
<text transform="matrix(0.6167 0.001 0 0.9620 359.95 278.10)" font-size="36.6" font-weight="400" fill="#0d0d0d">g</text>
<text transform="matrix(0.6167 0.001 0 0.9620 360.18 278.10)" font-size="36.6" font-weight="400" fill="#0d0d0d">g</text>
<text transform="matrix(0.6167 0.001 0 0.9620 360.40 278.10)" font-size="36.6" font-weight="400" fill="#0d0d0d">g</text>
<polygon points="511.30,252.92 514.90,252.92 514.90,278.10 511.70,278.10 511.70,257.32 508.80,261.72 507.50,259.32" fill="#0d0d0d"/>
<text transform="matrix(0.6487 0.001 0 1.0000 518.37 278.10)" font-size="36.6" font-weight="400" fill="#0d0d0d">0</text>
<text transform="matrix(0.6487 0.001 0 1.0000 518.60 278.10)" font-size="36.6" font-weight="400" fill="#0d0d0d">0</text>
<text transform="matrix(0.6487 0.001 0 1.0000 518.82 278.10)" font-size="36.6" font-weight="400" fill="#0d0d0d">0</text>
<text transform="matrix(0.6830 0.001 0 1.0000 533.22 278.10)" font-size="36.6" font-weight="400" fill="#0d0d0d">0</text>
<text transform="matrix(0.6830 0.001 0 1.0000 533.45 278.10)" font-size="36.6" font-weight="400" fill="#0d0d0d">0</text>
<text transform="matrix(0.6830 0.001 0 1.0000 533.67 278.10)" font-size="36.6" font-weight="400" fill="#0d0d0d">0</text>
<rect x="549.10" y="274.50" width="3.80" height="3.60" rx="0.9" fill="#0d0d0d"/>
<text transform="matrix(0.6887 0.001 0 1.0000 556.22 278.10)" font-size="36.6" font-weight="400" fill="#0d0d0d">0</text>
<text transform="matrix(0.6887 0.001 0 1.0000 556.44 278.10)" font-size="36.6" font-weight="400" fill="#0d0d0d">0</text>
<text transform="matrix(0.6887 0.001 0 1.0000 556.67 278.10)" font-size="36.6" font-weight="400" fill="#0d0d0d">0</text>
<text transform="matrix(0.6541 0.001 0 1.0000 75.44 332.70)" font-size="36.6" font-weight="400" fill="#0d0d0d">5</text>
<text transform="matrix(0.6541 0.001 0 1.0000 75.67 332.70)" font-size="36.6" font-weight="400" fill="#0d0d0d">5</text>
<text transform="matrix(0.6541 0.001 0 1.0000 75.89 332.70)" font-size="36.6" font-weight="400" fill="#0d0d0d">5</text>
<rect x="91.90" y="329.10" width="3.70" height="3.60" rx="0.9" fill="#0d0d0d"/>
<text transform="matrix(0.7167 0.001 0 1.0000 98.68 332.70)" font-size="36.6" font-weight="400" fill="#0d0d0d">2</text>
<text transform="matrix(0.7167 0.001 0 1.0000 98.91 332.70)" font-size="36.6" font-weight="400" fill="#0d0d0d">2</text>
<text transform="matrix(0.7167 0.001 0 1.0000 99.13 332.70)" font-size="36.6" font-weight="400" fill="#0d0d0d">2</text>
<text transform="matrix(0.6886 0.001 0 1.0000 113.29 332.70)" font-size="36.6" font-weight="400" fill="#0d0d0d">5</text>
<text transform="matrix(0.6886 0.001 0 1.0000 113.52 332.70)" font-size="36.6" font-weight="400" fill="#0d0d0d">5</text>
<text transform="matrix(0.6886 0.001 0 1.0000 113.74 332.70)" font-size="36.6" font-weight="400" fill="#0d0d0d">5</text>
<text transform="matrix(0.6167 0.001 0 0.9620 135.05 332.70)" font-size="36.6" font-weight="400" fill="#0d0d0d">g</text>
<text transform="matrix(0.6167 0.001 0 0.9620 135.28 332.70)" font-size="36.6" font-weight="400" fill="#0d0d0d">g</text>
<text transform="matrix(0.6167 0.001 0 0.9620 135.50 332.70)" font-size="36.6" font-weight="400" fill="#0d0d0d">g</text>
<text transform="matrix(0.6004 0.001 0 1.0000 283.77 332.70)" font-size="36.6" font-weight="400" fill="#0d0d0d">9</text>
<text transform="matrix(0.6004 0.001 0 1.0000 283.99 332.70)" font-size="36.6" font-weight="400" fill="#0d0d0d">9</text>
<text transform="matrix(0.6004 0.001 0 1.0000 284.22 332.70)" font-size="36.6" font-weight="400" fill="#0d0d0d">9</text>
<text transform="matrix(0.6368 0.001 0 1.0000 299.27 332.70)" font-size="36.6" font-weight="400" fill="#0d0d0d">5</text>
<text transform="matrix(0.6368 0.001 0 1.0000 299.49 332.70)" font-size="36.6" font-weight="400" fill="#0d0d0d">5</text>
<text transform="matrix(0.6368 0.001 0 1.0000 299.72 332.70)" font-size="36.6" font-weight="400" fill="#0d0d0d">5</text>
<rect x="316.00" y="329.30" width="3.40" height="3.40" rx="0.9" fill="#0d0d0d"/>
<text transform="matrix(0.6659 0.001 0 1.0000 323.05 332.70)" font-size="36.6" font-weight="400" fill="#0d0d0d">0</text>
<text transform="matrix(0.6659 0.001 0 1.0000 323.27 332.70)" font-size="36.6" font-weight="400" fill="#0d0d0d">0</text>
<text transform="matrix(0.6659 0.001 0 1.0000 323.50 332.70)" font-size="36.6" font-weight="400" fill="#0d0d0d">0</text>
<text transform="matrix(0.6659 0.001 0 1.0000 338.75 332.70)" font-size="36.6" font-weight="400" fill="#0d0d0d">0</text>
<text transform="matrix(0.6659 0.001 0 1.0000 338.97 332.70)" font-size="36.6" font-weight="400" fill="#0d0d0d">0</text>
<text transform="matrix(0.6659 0.001 0 1.0000 339.20 332.70)" font-size="36.6" font-weight="400" fill="#0d0d0d">0</text>
<text transform="matrix(0.6167 0.001 0 0.9620 359.95 332.70)" font-size="36.6" font-weight="400" fill="#0d0d0d">g</text>
<text transform="matrix(0.6167 0.001 0 0.9620 360.18 332.70)" font-size="36.6" font-weight="400" fill="#0d0d0d">g</text>
<text transform="matrix(0.6167 0.001 0 0.9620 360.40 332.70)" font-size="36.6" font-weight="400" fill="#0d0d0d">g</text>
<polygon points="511.30,307.52 514.90,307.52 514.90,332.70 511.70,332.70 511.70,311.92 508.80,316.32 507.50,313.92" fill="#0d0d0d"/>
<text transform="matrix(0.6487 0.001 0 1.0000 518.37 332.70)" font-size="36.6" font-weight="400" fill="#0d0d0d">0</text>
<text transform="matrix(0.6487 0.001 0 1.0000 518.60 332.70)" font-size="36.6" font-weight="400" fill="#0d0d0d">0</text>
<text transform="matrix(0.6487 0.001 0 1.0000 518.82 332.70)" font-size="36.6" font-weight="400" fill="#0d0d0d">0</text>
<text transform="matrix(0.6541 0.001 0 1.0000 532.64 332.70)" font-size="36.6" font-weight="400" fill="#0d0d0d">5</text>
<text transform="matrix(0.6541 0.001 0 1.0000 532.87 332.70)" font-size="36.6" font-weight="400" fill="#0d0d0d">5</text>
<text transform="matrix(0.6541 0.001 0 1.0000 533.09 332.70)" font-size="36.6" font-weight="400" fill="#0d0d0d">5</text>
<rect x="549.10" y="329.10" width="3.80" height="3.60" rx="0.9" fill="#0d0d0d"/>
<text transform="matrix(0.6887 0.001 0 1.0000 556.22 332.70)" font-size="36.6" font-weight="400" fill="#0d0d0d">0</text>
<text transform="matrix(0.6887 0.001 0 1.0000 556.44 332.70)" font-size="36.6" font-weight="400" fill="#0d0d0d">0</text>
<text transform="matrix(0.6887 0.001 0 1.0000 556.67 332.70)" font-size="36.6" font-weight="400" fill="#0d0d0d">0</text>
<text transform="matrix(0.6541 0.001 0 1.0000 75.44 387.30)" font-size="36.6" font-weight="400" fill="#0d0d0d">5</text>
<text transform="matrix(0.6541 0.001 0 1.0000 75.67 387.30)" font-size="36.6" font-weight="400" fill="#0d0d0d">5</text>
<text transform="matrix(0.6541 0.001 0 1.0000 75.89 387.30)" font-size="36.6" font-weight="400" fill="#0d0d0d">5</text>
<rect x="91.90" y="383.70" width="3.70" height="3.60" rx="0.9" fill="#0d0d0d"/>
<text transform="matrix(0.6886 0.001 0 1.0000 98.99 387.30)" font-size="36.6" font-weight="400" fill="#0d0d0d">5</text>
<text transform="matrix(0.6886 0.001 0 1.0000 99.22 387.30)" font-size="36.6" font-weight="400" fill="#0d0d0d">5</text>
<text transform="matrix(0.6886 0.001 0 1.0000 99.44 387.30)" font-size="36.6" font-weight="400" fill="#0d0d0d">5</text>
<text transform="matrix(0.6487 0.001 0 1.0000 113.97 387.30)" font-size="36.6" font-weight="400" fill="#0d0d0d">0</text>
<text transform="matrix(0.6487 0.001 0 1.0000 114.20 387.30)" font-size="36.6" font-weight="400" fill="#0d0d0d">0</text>
<text transform="matrix(0.6487 0.001 0 1.0000 114.42 387.30)" font-size="36.6" font-weight="400" fill="#0d0d0d">0</text>
<text transform="matrix(0.6106 0.001 0 0.9620 135.76 387.30)" font-size="36.6" font-weight="400" fill="#0d0d0d">g</text>
<text transform="matrix(0.6106 0.001 0 0.9620 135.99 387.30)" font-size="36.6" font-weight="400" fill="#0d0d0d">g</text>
<text transform="matrix(0.6106 0.001 0 0.9620 136.21 387.30)" font-size="36.6" font-weight="400" fill="#0d0d0d">g</text>
<text transform="matrix(0.6004 0.001 0 1.0000 283.77 387.30)" font-size="36.6" font-weight="400" fill="#0d0d0d">9</text>
<text transform="matrix(0.6004 0.001 0 1.0000 283.99 387.30)" font-size="36.6" font-weight="400" fill="#0d0d0d">9</text>
<text transform="matrix(0.6004 0.001 0 1.0000 284.22 387.30)" font-size="36.6" font-weight="400" fill="#0d0d0d">9</text>
<text transform="matrix(0.6368 0.001 0 1.0000 299.27 387.30)" font-size="36.6" font-weight="400" fill="#0d0d0d">5</text>
<text transform="matrix(0.6368 0.001 0 1.0000 299.49 387.30)" font-size="36.6" font-weight="400" fill="#0d0d0d">5</text>
<text transform="matrix(0.6368 0.001 0 1.0000 299.72 387.30)" font-size="36.6" font-weight="400" fill="#0d0d0d">5</text>
<rect x="316.00" y="383.90" width="3.40" height="3.40" rx="0.9" fill="#0d0d0d"/>
<text transform="matrix(0.6659 0.001 0 1.0000 323.05 387.30)" font-size="36.6" font-weight="400" fill="#0d0d0d">0</text>
<text transform="matrix(0.6659 0.001 0 1.0000 323.27 387.30)" font-size="36.6" font-weight="400" fill="#0d0d0d">0</text>
<text transform="matrix(0.6659 0.001 0 1.0000 323.50 387.30)" font-size="36.6" font-weight="400" fill="#0d0d0d">0</text>
<text transform="matrix(0.6659 0.001 0 1.0000 338.75 387.30)" font-size="36.6" font-weight="400" fill="#0d0d0d">0</text>
<text transform="matrix(0.6659 0.001 0 1.0000 338.97 387.30)" font-size="36.6" font-weight="400" fill="#0d0d0d">0</text>
<text transform="matrix(0.6659 0.001 0 1.0000 339.20 387.30)" font-size="36.6" font-weight="400" fill="#0d0d0d">0</text>
<text transform="matrix(0.6167 0.001 0 0.9620 359.95 387.30)" font-size="36.6" font-weight="400" fill="#0d0d0d">g</text>
<text transform="matrix(0.6167 0.001 0 0.9620 360.18 387.30)" font-size="36.6" font-weight="400" fill="#0d0d0d">g</text>
<text transform="matrix(0.6167 0.001 0 0.9620 360.40 387.30)" font-size="36.6" font-weight="400" fill="#0d0d0d">g</text>
<polygon points="513.20,362.12 516.80,362.12 516.80,387.30 513.60,387.30 513.60,366.52 510.60,370.92 509.30,368.52" fill="#0d0d0d"/>
<polygon points="524.40,362.12 528.00,362.12 528.00,387.30 524.80,387.30 524.80,366.52 521.80,370.92 520.50,368.52" fill="#0d0d0d"/>
<text transform="matrix(0.6487 0.001 0 1.0000 530.77 387.30)" font-size="36.6" font-weight="400" fill="#0d0d0d">0</text>
<text transform="matrix(0.6487 0.001 0 1.0000 531.00 387.30)" font-size="36.6" font-weight="400" fill="#0d0d0d">0</text>
<text transform="matrix(0.6487 0.001 0 1.0000 531.22 387.30)" font-size="36.6" font-weight="400" fill="#0d0d0d">0</text>
<rect x="546.60" y="383.70" width="3.80" height="3.60" rx="0.9" fill="#0d0d0d"/>
<text transform="matrix(0.6887 0.001 0 1.0000 553.72 387.30)" font-size="36.6" font-weight="400" fill="#0d0d0d">0</text>
<text transform="matrix(0.6887 0.001 0 1.0000 553.94 387.30)" font-size="36.6" font-weight="400" fill="#0d0d0d">0</text>
<text transform="matrix(0.6887 0.001 0 1.0000 554.17 387.30)" font-size="36.6" font-weight="400" fill="#0d0d0d">0</text>
</svg>
</body></html>
